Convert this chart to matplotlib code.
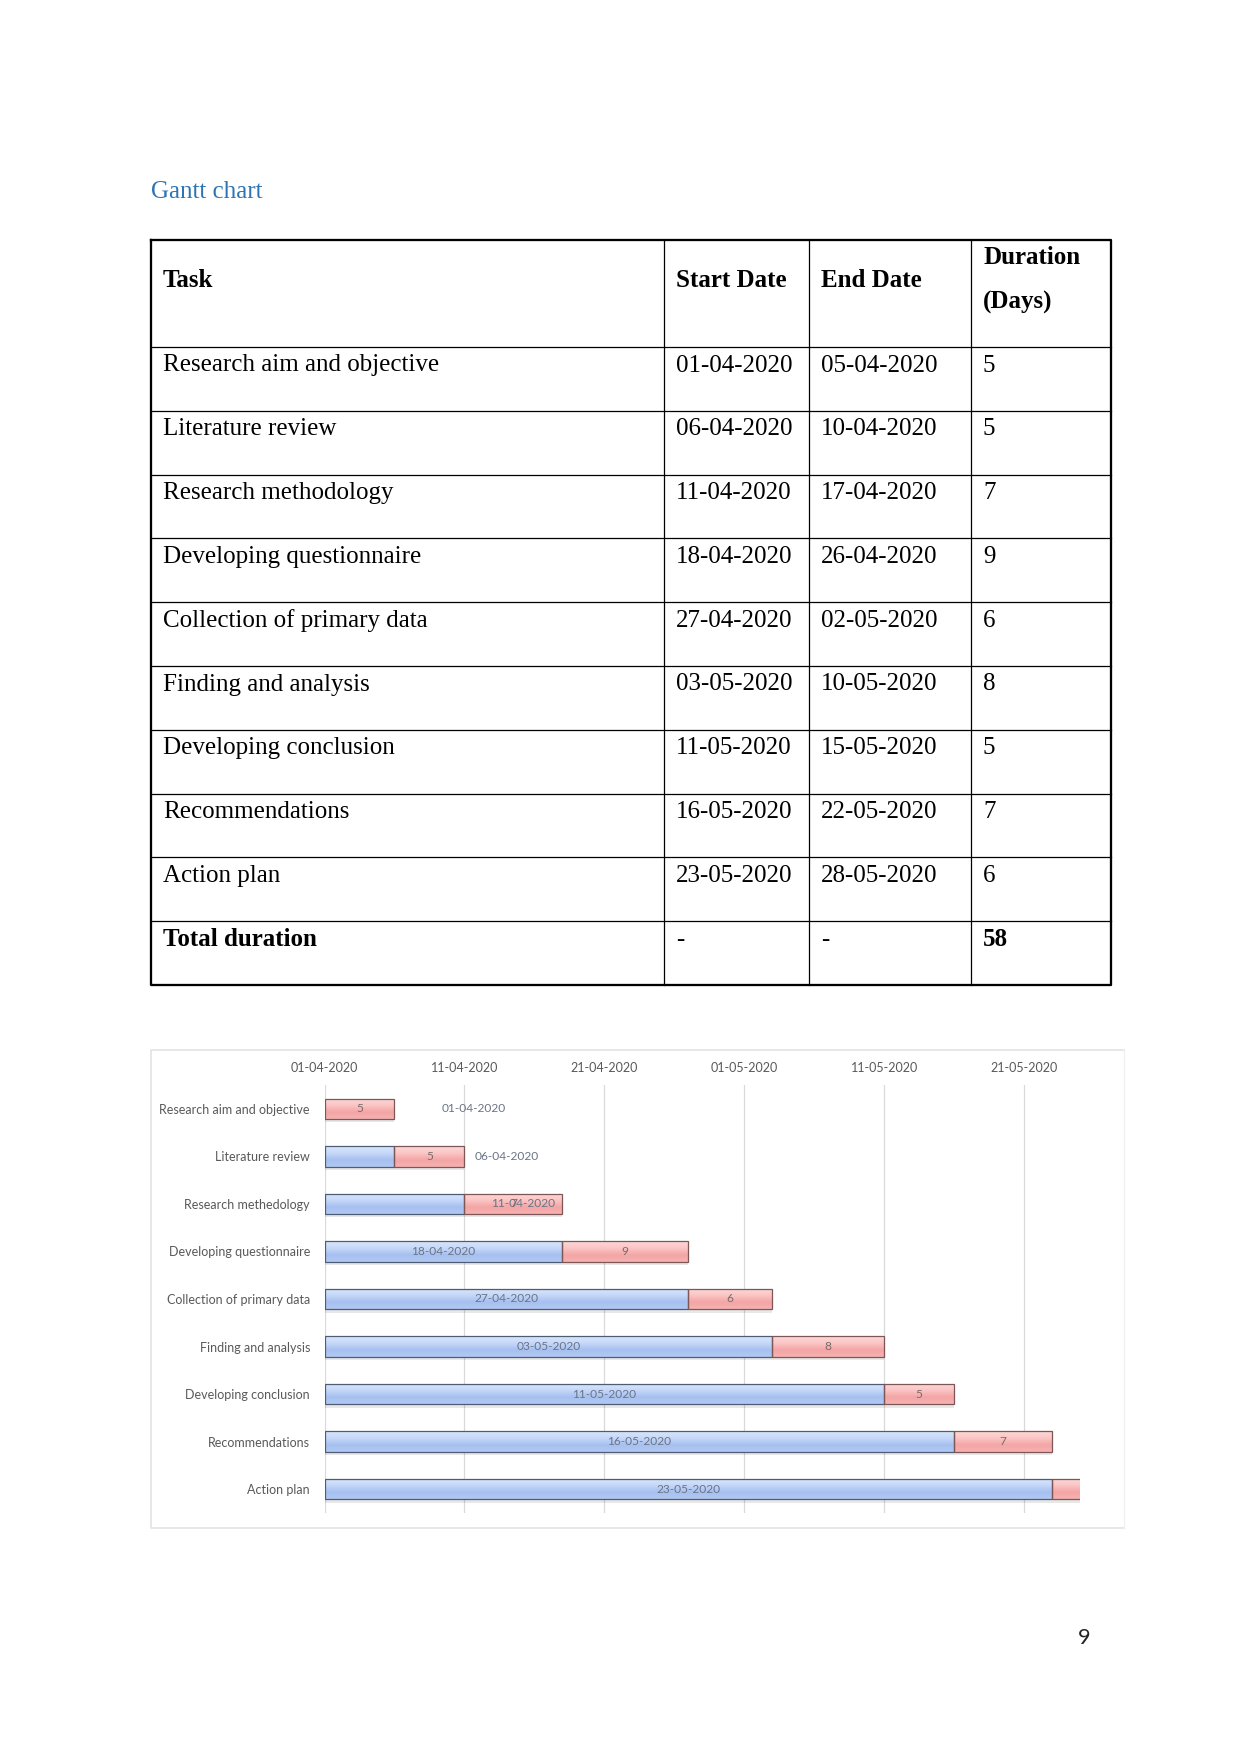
import matplotlib
matplotlib.use("Agg")
import matplotlib.pyplot as plt
import matplotlib.dates as mdates
from matplotlib.colors import LinearSegmentedColormap
import numpy as np
from datetime import datetime

# Datos de la tabla
tareas_tabla = ["Research aim and objective", "Literature review", "Research methodology",
                "Developing questionnaire", "Collection of primary data", "Finding and analysis",
                "Developing conclusion", "Recommendations", "Action plan"]
inicio = ["01-04-2020", "06-04-2020", "11-04-2020", "18-04-2020", "27-04-2020",
          "03-05-2020", "11-05-2020", "16-05-2020", "23-05-2020"]
fin = ["05-04-2020", "10-04-2020", "17-04-2020", "26-04-2020", "02-05-2020",
       "10-05-2020", "15-05-2020", "22-05-2020", "28-05-2020"]
duracion = [5, 5, 7, 9, 6, 8, 5, 7, 6]
total = 58

# Etiquetas del grafico (como aparecen en el grafico de Excel)
tareas_grafico = ["Research aim and objective", "Literature review", "Research methedology",
                  "Developing questionnaire", "Collection of primary data", "Finding and analysis",
                  "Developing conclusion", "Recommendations", "Action plan"]
eje_min = "01-04-2020"
eje_max = "25-05-2020"
paso_dias = 10

W, H = 1241, 1754
fig = plt.figure(figsize=(W / 150, H / 150), dpi=150)
fig.patch.set_facecolor("white")

# Eje "pagina" en pixeles
pag = fig.add_axes([0, 0, 1, 1])
pag.set_xlim(0, W)
pag.set_ylim(H, 0)
pag.axis("off")

serif = "Liberation Serif"
pag.text(151, 192, "Gantt chart", fontsize=12, family=serif, color="#2e74b5", va="center")

# Tabla
col_x = [151, 664, 809, 971, 1111]
fila_y = [239.5, 347] + [347 + 63.8 * (i + 1) for i in range(10)]
for y in fila_y[1:-1]:
    pag.plot([col_x[0], col_x[-1]], [y, y], color="black", lw=0.6)
for x in col_x[1:-1]:
    pag.plot([x, x], [fila_y[0], fila_y[-1]], color="black", lw=0.6)
pag.plot([col_x[0], col_x[-1], col_x[-1], col_x[0], col_x[0]],
         [fila_y[0], fila_y[0], fila_y[-1], fila_y[-1], fila_y[0]], color="black", lw=1.1)

tx = [c + 12 for c in col_x[:4]]
encab = ["Task", "Start Date", "End Date"]
for i, t in enumerate(encab):
    pag.text(tx[i], 280.5, t, fontsize=12, family=serif, weight="bold", va="center")
pag.text(tx[3], 258, "Duration", fontsize=12, family=serif, weight="bold", va="center")
pag.text(tx[3], 302, "(Days)", fontsize=12, family=serif, weight="bold", va="center")

filas = list(zip(tareas_tabla, inicio, fin, [str(d) for d in duracion]))
filas.append(("Total duration", "-", "-", str(total)))
for r, fila in enumerate(filas):
    y = fila_y[r + 1] + 18.5
    negrita = r == len(filas) - 1
    for c, val in enumerate(fila):
        w = "bold" if negrita and c in (0, 3) else "normal"
        pag.text(tx[c], y, val, fontsize=12, family=serif, weight=w, va="center")

# Marco del grafico
pag.plot([1124, 151, 151, 1124], [1050, 1050, 1528, 1528], color="#e3e3e3", lw=0.8)
pag.plot([1124, 1124], [1050, 1528], color="#f0f0f0", lw=0.6)

# Numero de pagina
pag.text(1084, 1638, "9", fontsize=10.5, family="Lato", va="center", ha="center", color="#222222")

# Grafico de Gantt
izq, der, arr, aba = 324.5, 1080, 1085, 1513
ax = fig.add_axes([izq / W, 1 - aba / H, (der - izq) / W, (aba - arr) / H])

fecha = lambda s: mdates.date2num(datetime.strptime(s, "%d-%m-%Y"))
x0 = fecha(eje_min)
x1 = fecha(eje_max)
xs = np.array([fecha(s) for s in inicio])
ys = np.arange(len(tareas_grafico))
alto = 0.43

azul = ax.barh(ys, xs - x0, left=x0, height=alto, color="#bcd1f6", edgecolor="#4e5d74", lw=0.6, zorder=3)
rojo = ax.barh(ys, duracion, left=xs, height=alto, color="#f9bcbc", edgecolor="#7d5656", lw=0.6, zorder=3)
# sombra ligera
ax.barh(ys + 0.07, np.array(duracion) + xs - x0, left=x0, height=alto, color="#000000", alpha=0.09,
        lw=0, zorder=2)

grad = np.linspace(0, 1, 64)[:, None]
cm_azul = LinearSegmentedColormap.from_list("az", ["#d9e6fc", "#c6d8f9", "#a6c0f0", "#b2c9f3"])
cm_rojo = LinearSegmentedColormap.from_list("ro", ["#fdd8d8", "#fbc5c5", "#f4a5a5", "#f6b2b2"])
for barras, cm in ((azul, cm_azul), (rojo, cm_rojo)):
    for b in barras:
        if b.get_width() <= 0:
            continue
        bx, by, bw, bh = b.get_x(), b.get_y(), b.get_width(), b.get_height()
        bx2 = min(bx + bw, x1)
        im = ax.imshow(grad, extent=(bx, bx2, by + bh, by), cmap=cm, aspect="auto",
                       origin="upper", zorder=3.5, interpolation="bilinear")
        im.set_clip_path(b)
        b.set_facecolor("none")
        b.set_zorder(4)

# Etiquetas de datos
mover = {0: 10.7, 1: 13.0, 2: 14.2}
for i, y in enumerate(ys):
    cx = x0 + mover[i] if i in mover else x0 + (xs[i] - x0) / 2
    ax.text(cx, y, inicio[i], fontsize=5.7, family="Lato", color="#6a7486", ha="center", va="center",
            zorder=6, clip_on=True)
    ax.text(xs[i] + duracion[i] / 2, y, str(duracion[i]), fontsize=5.7, family="Lato", color="#7a6a6a",
            ha="center", va="center", zorder=6, clip_on=True)

ax.set_xlim(x0, x1)
ax.set_ylim(len(ys) - 0.5, -0.5)
ax.set_xticks([x0 + paso_dias * k for k in range(6)])
ax.xaxis.set_major_formatter(mdates.DateFormatter("%d-%m-%Y"))
ax.xaxis.tick_top()
ax.set_yticks(ys)
ax.set_yticklabels(tareas_grafico)
ax.tick_params(length=0, labelsize=6, colors="#595959")
ax.tick_params(axis="x", pad=5.5)
ax.tick_params(axis="y", pad=7)
for lab in ax.get_xticklabels() + ax.get_yticklabels():
    lab.set_family("Lato")
ax.grid(axis="x", color="#d9d9d9", lw=0.6, zorder=0)
ax.set_axisbelow(True)
for s in ax.spines.values():
    s.set_visible(False)

fig.savefig("out.png", dpi=150, facecolor="white")
